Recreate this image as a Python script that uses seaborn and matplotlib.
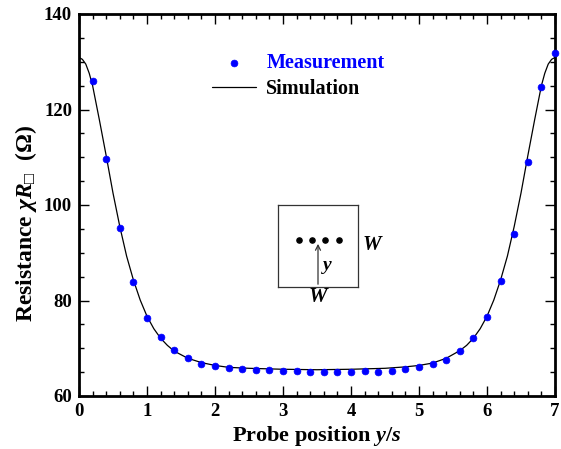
import numpy as np
import pandas as pd
import matplotlib
matplotlib.use("Agg")
import matplotlib.pyplot as plt
import seaborn as sns

# Measurement data
meas_x = [0.2, 0.4, 0.6, 0.8, 1.0, 1.2, 1.4, 1.6, 1.8, 2.0, 2.2, 2.4, 2.6, 2.8, 3.0,
          3.2, 3.4, 3.6, 3.8, 4.0, 4.2, 4.4, 4.6, 4.8, 5.0, 5.2, 5.4, 5.6, 5.8, 6.0,
          6.2, 6.4, 6.6, 6.8, 7.0]
meas_y = [126.0, 109.7, 95.2, 83.9, 76.3, 72.4, 69.6, 67.9, 66.7, 66.3, 65.8, 65.6, 65.4, 65.4, 65.2,
          65.2, 65.0, 65.0, 65.0, 65.0, 65.2, 65.1, 65.3, 65.6, 66.0, 66.8, 67.5, 69.4, 72.1, 76.5,
          84.0, 93.9, 109.1, 124.8, 131.8]

# Simulation curve
sim_x = [0.0, 0.05, 0.1, 0.15, 0.2, 0.3, 0.4, 0.5, 0.6, 0.7, 0.8, 0.9, 1.0, 1.1, 1.2, 1.3,
         1.4, 1.6, 1.8, 2.0, 2.2, 2.5, 3.0, 3.5, 4.0, 4.5, 4.8, 5.0, 5.2, 5.4, 5.6, 5.7,
         5.8, 5.9, 6.0, 6.1, 6.2, 6.3, 6.4, 6.5, 6.6, 6.7, 6.8, 6.85, 6.9, 6.95, 7.0]
sim_y = [130.9, 130.5, 129.5, 127.6, 125.0, 117.8, 110.3, 102.5, 95.5, 89.3, 84.3, 80.1, 76.7, 74.1, 72.1, 70.6,
         69.4, 67.9, 67.0, 66.4, 66.0, 65.8, 65.6, 65.5, 65.6, 65.8, 66.1, 66.4, 66.9, 67.9, 69.5, 70.6,
         72.1, 74.1, 76.7, 80.1, 84.3, 89.3, 95.5, 102.5, 110.3, 117.8, 125.0, 127.6, 129.5, 130.5, 130.9]

x_ticks = [0, 1, 2, 3, 4, 5, 6, 7]
y_ticks = [60, 80, 100, 120, 140]

sns.set_style("ticks", {"axes.edgecolor": "black", "xtick.color": "black", "ytick.color": "black",
                        "text.color": "black", "axes.labelcolor": "black"})
plt.rcParams["font.family"] = ["Liberation Serif", "DejaVu Serif"]
plt.rcParams["font.weight"] = "bold"
plt.rcParams["mathtext.fontset"] = "custom"
plt.rcParams["mathtext.rm"] = "Liberation Serif:bold"
plt.rcParams["mathtext.it"] = "Liberation Serif:italic:bold"
plt.rcParams["mathtext.bf"] = "Liberation Serif:bold"

fig = plt.figure(figsize=(5.61, 4.49), dpi=100)
ax = fig.add_axes([79/561, 1-396/449, 476/561, 382/449])

df_m = pd.DataFrame({"x": meas_x, "y": meas_y})
df_s = pd.DataFrame({"x": sim_x, "y": sim_y})

sns.lineplot(data=df_s, x="x", y="y", ax=ax, color="black", linewidth=0.9,
             label="Simulation", zorder=2)
sns.scatterplot(data=df_m, x="x", y="y", ax=ax, color="#0000ff", s=24,
                edgecolor="#0000ff", linewidth=0.5, label="Measurement", zorder=3,
                clip_on=False)

ax.set_xlim(0, 7)
ax.set_ylim(60, 140)
ax.set_xticks(x_ticks)
ax.set_yticks(y_ticks)
ax.set_xticks(np.arange(0, 7.01, 0.2), minor=True)
ax.set_yticks(np.arange(60, 140.1, 5), minor=True)
ax.tick_params(which="both", direction="in", top=True, right=True, width=1.0,
               labelsize=13.5, pad=5, colors="black")
ax.tick_params(which="major", length=7)
ax.tick_params(which="minor", length=3.5)
for lab in ax.get_xticklabels() + ax.get_yticklabels():
    lab.set_fontweight("bold")
for sp in ax.spines.values():
    sp.set_linewidth(2.0)
    sp.set_color("black")

ax.set_xlabel("Probe position $y/s$", fontsize=16, fontweight="bold", labelpad=3)
ax.set_ylabel("Resistance $\\chi R_{\u25a1}$  ($\\Omega$)", fontsize=17, fontweight="bold")
ax.yaxis.set_label_coords(-0.085, 0.452)

# Legend
h, l = ax.get_legend_handles_labels()
order = [l.index("Measurement"), l.index("Simulation")]
leg = ax.legend([h[i] for i in order], [l[i] for i in order], loc="upper left",
                bbox_to_anchor=((204-79)/476, 1-(45-14)/382), frameon=False,
                handlelength=2.2, handletextpad=0.5, labelspacing=0.3,
                borderaxespad=0, prop={"weight": "bold", "size": 14.5})
leg.get_texts()[0].set_color("#0000ff")
leg.get_texts()[1].set_color("black")

# Inset sketch
ins = fig.add_axes([278/561, 1-287/449, 80/561, 82/449])
ins.set_xlim(0, 1)
ins.set_ylim(0, 1)
ins.set_xticks([])
ins.set_yticks([])
for sp in ins.spines.values():
    sp.set_linewidth(0.9)
    sp.set_color("#333333")
ins.scatter([0.26, 0.43, 0.59, 0.76], [0.57, 0.57, 0.57, 0.57], s=14, color="black", zorder=3)
ins.annotate("", xy=(0.5, 0.56), xytext=(0.5, 0.0),
             arrowprops=dict(arrowstyle="->", color="#333333", lw=0.9, mutation_scale=9))
ins.text(0.62, 0.26, "y", style="italic", fontweight="bold", fontsize=14, ha="center", va="center")
ins.text(1.17, 0.51, "W", style="italic", fontweight="bold", fontsize=15, ha="center", va="center",
         clip_on=False)
ins.text(0.5, -0.12, "W", style="italic", fontweight="bold", fontsize=15, ha="center", va="center",
         clip_on=False)

fig.savefig("out.png", dpi=100)
